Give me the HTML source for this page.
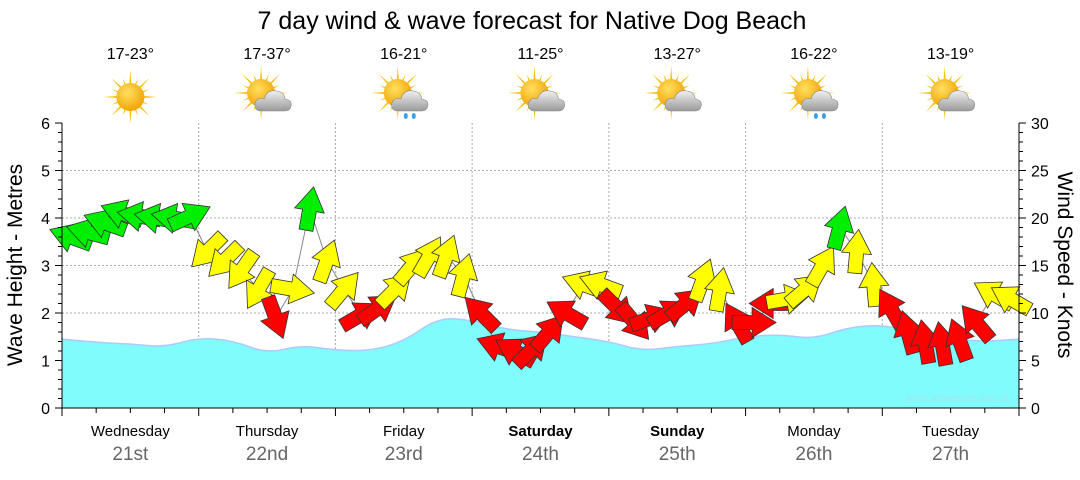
<!DOCTYPE html>
<html><head><meta charset="utf-8">
<style>
body{margin:0;background:#fff;width:1080px;height:475px;overflow:hidden;font-family:"Liberation Sans",sans-serif}
svg text{font-family:"Liberation Sans",sans-serif}
</style></head>
<body>
<svg id="chart" width="1080" height="475" xmlns="http://www.w3.org/2000/svg">
<defs>
<radialGradient id="sunG" cx="0.4" cy="0.35" r="0.7"><stop offset="0" stop-color="#ffe060"/><stop offset="1" stop-color="#f0a000"/></radialGradient>
<linearGradient id="cloudG" x1="0" y1="0" x2="0" y2="1"><stop offset="0" stop-color="#f0f0f0"/><stop offset="1" stop-color="#9a9a9a"/></linearGradient>
</defs>
<text x="532" y="29" font-size="25" text-anchor="middle" fill="#000">7 day wind &amp; wave forecast for Native Dog Beach</text>
<g id="icons"></g>
<g id="grid"></g>
<g id="wave"></g>
<g id="wind"></g>
<g id="axes"></g>
<text x="1012" y="401" font-size="10" text-anchor="end" fill="#9ee6ee">www.seabreeze.com.au</text>
<text transform="translate(22,265) rotate(-90)" font-size="21" text-anchor="middle">Wave Height - Metres</text>
<text transform="translate(1058,265) rotate(90)" font-size="21" text-anchor="middle">Wind Speed - Knots</text>
</svg>
<script>
const dayNames=["Wednesday","Thursday","Friday","Saturday","Sunday","Monday","Tuesday"];
const dayDates=["21st","22nd","23rd","24th","25th","26th","27th"];
const temps=["17-23°","17-37°","16-21°","11-25°","13-27°","16-22°","13-19°"];
const weather=["sun","cloud","rain","cloud","cloud","rain","cloud"];
const waveHeights=[1.45,1.38,1.35,1.28,1.48,1.42,1.15,1.32,1.22,1.2,1.4,1.9,1.85,1.65,1.6,1.5,1.4,1.2,1.3,1.35,1.5,1.55,1.45,1.7,1.75,1.6,1.45,1.4,1.45];
const windKnots=[18,18.5,19.5,20.5,20.2,20,20,20.2,
16.5,15.5,14.5,12.5,9.5,12.5,21,15.5,
12.5,9.8,10.5,12.5,15,16,16,14,
10,6.5,6,6.2,8,10,13,13,
10.5,9,9.5,10,11,13.5,12.5,9,
9,11,11.5,12.5,15,19,16.5,13,
10.5,8,7,6.8,7.2,9,12,11.5];
const windDir=[290,285,290,290,280,280,280,65,
225,225,215,210,160,100,10,20,
40,60,55,45,40,30,20,15,
315,290,300,45,40,300,290,290,
135,140,70,60,50,20,10,330,
90,270,80,50,30,15,5,355,
330,345,350,350,340,320,300,300];
const windCol=["g","g","g","g","g","g","g","g",
"y","y","y","y","r","y","g","y",
"y","r","r","y","y","y","y","y",
"r","r","r","r","r","r","y","y",
"r","r","r","r","r","y","y","r",
"r","r","y","y","y","g","y","y",
"r","r","r","r","r","r","y","y"];
const leftTicks=[0,1,2,3,4,5,6];
const rightTicks=[0,5,10,15,20,25,30];

const NS="http://www.w3.org/2000/svg";
const X0=62,X1=1019,Y0=408,Y1=123,DW=(X1-X0)/7;
const xDay=d=>X0+d*DW;
const yM=m=>Y0-m*(Y0-Y1)/6;
const yK=k=>Y0-k*(Y0-Y1)/30;
function el(t,a,p){const e=document.createElementNS(NS,t);for(const k in a)e.setAttribute(k,a[k]);p.appendChild(e);return e;}
const grid=document.getElementById('grid'),axes=document.getElementById('axes'),icons=document.getElementById('icons');
leftTicks.forEach(v=>{if(v>0&&v<6){const g=el('line',{x1:X0,x2:X1,y1:yM(v),y2:yM(v),stroke:'#aaa','stroke-dasharray':'2,2'},grid);

}});
for(let d=1;d<7;d++){const g=el('line',{x1:xDay(d),x2:xDay(d),y1:Y1,y2:Y0,stroke:'#aaa','stroke-dasharray':'2,2'},grid);

}
// wave area (smoothed)
const wg=document.getElementById('wave');
let pts=waveHeights.map((h,i)=>[X0+i*(X1-X0)/(waveHeights.length-1),yM(h)]);
let curve='M'+pts[0][0]+','+pts[0][1];
for(let i=1;i<pts.length-1;i++){const mx=(pts[i][0]+pts[i+1][0])/2,my=(pts[i][1]+pts[i+1][1])/2;curve+=` Q${pts[i][0].toFixed(1)},${pts[i][1].toFixed(1)} ${mx.toFixed(1)},${my.toFixed(1)}`;}
curve+=` L${pts[pts.length-1][0]},${pts[pts.length-1][1]}`;
const wa=el('path',{d:'M'+X0+','+Y0+' L'+curve.slice(1)+' L'+X1+','+Y0+'Z',fill:'#80fcfc',stroke:'none'},wg);


const wl=el('path',{d:curve,fill:'none',stroke:'#b0c8ff','stroke-width':1.5},wg);


// wind
const wind=document.getElementById('wind');
const step=(X1-X0)/windKnots.length;
const wp=windKnots.map((k,i)=>[X0+(i+0.5)*step,yK(k)]);
const ln=el('polyline',{points:wp.map(p=>p.join(',')).join(' '),fill:'none',stroke:'#888','stroke-width':1},wind);


const colMap={r:'#ff0000',y:'#ffff00',g:'#00ee00'};
const arrowPts="-7,22 7,22 7,2 15,2 0,-22 -15,2 -7,2";
wp.forEach((p,i)=>{
  const a=el('polygon',{points:arrowPts,fill:colMap[windCol[i]],stroke:'#333','stroke-width':0.8,transform:`translate(${p[0].toFixed(1)},${p[1].toFixed(1)}) rotate(${windDir[i]})`},wind);
  
  
});
// axes
el('line',{x1:X0,x2:X0,y1:Y1,y2:Y0,stroke:'#000'},axes);
el('line',{x1:X1,x2:X1,y1:Y1,y2:Y0,stroke:'#000'},axes);
el('line',{x1:X0,x2:X1,y1:Y0,y2:Y0,stroke:'#000'},axes);
for(let i=0;i<=30;i++){const y=yM(i/5);el('line',{x1:X0-(i%5?4:7),x2:X0,y1:y,y2:y,stroke:'#000'},axes);el('line',{x1:X1,x2:X1+(i%5?4:7),y1:y,y2:y,stroke:'#000'},axes);}
leftTicks.forEach(v=>{const t=el('text',{x:X0-12,y:yM(v)+6,'font-size':16,'text-anchor':'end'},axes);t.textContent=v;

});
rightTicks.forEach(v=>{const t=el('text',{x:X1+12,y:yK(v)+6,'font-size':16},axes);t.textContent=v;

});
for(let i=0;i<=28;i++){const x=X0+i*DW/4;el('line',{x1:x,x2:x,y1:Y0,y2:Y0+(i%4?5:8),stroke:'#000'},axes);}
dayNames.forEach((n,i)=>{const cx=xDay(i+0.5);
 const t=el('text',{x:cx,y:436,'font-size':15,'text-anchor':'middle','font-weight':(i==3||i==4)?'bold':'normal'},axes);t.textContent=n;
 
 
 const t2=el('text',{x:cx,y:460,'font-size':19,'text-anchor':'middle',fill:'#666'},axes);t2.textContent=dayDates[i];
 
 
 const t3=el('text',{x:cx,y:59,'font-size':16,'text-anchor':'middle'},icons);t3.textContent=temps[i];
 
 
 const g=el('g',{transform:`translate(${cx},97)`},icons);
 
 
 const sx=weather[i]=='sun'?0:-6, sy=weather[i]=='sun'?0:-4;
 for(let r=0;r<16;r++){const ang=r*22.5*Math.PI/180,L=r%2?20:27;
  el('polygon',{points:`${sx+Math.cos(ang+0.12)*10},${sy+Math.sin(ang+0.12)*10} ${sx+Math.cos(ang)*L},${sy+Math.sin(ang)*L} ${sx+Math.cos(ang-0.12)*10},${sy+Math.sin(ang-0.12)*10}`,fill:'#f5c000'},g);}
 el('circle',{cx:sx,cy:sy,r:14,fill:'url(#sunG)'},g);
 if(weather[i]!='sun'){
  el('path',{d:'M-6,14 Q-13,14 -12,6 Q-10,0 -3,2 Q0,-8 10,-6 Q17,-5 18,2 Q25,3 24,9 Q23,14 18,14 Z',fill:'url(#cloudG)',stroke:'#888','stroke-width':0.6},g);
 }
 if(weather[i]=='rain'){el('ellipse',{cx:2,cy:19,rx:2,ry:3,fill:'#3aa0e0'},g);el('ellipse',{cx:10,cy:19,rx:2,ry:3,fill:'#3aa0e0'},g);}
});
</script>
</body></html>
